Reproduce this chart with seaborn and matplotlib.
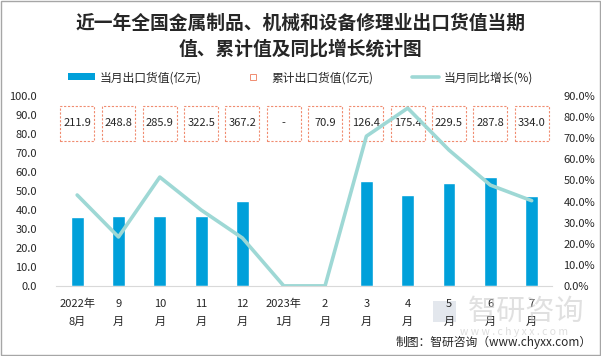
import numpy as np
import pandas as pd
import matplotlib
matplotlib.use("Agg")
import matplotlib.pyplot as plt
from matplotlib.patches import Patch, Rectangle
from matplotlib.lines import Line2D
import seaborn as sns

months = ["2022年\n8月", "9\n月", "10\n月", "11\n月", "12\n月", "2023年\n1月",
          "2\n月", "3\n月", "4\n月", "5\n月", "6\n月", "7\n月"]
monthly_value = [36.1, 36.6, 36.6, 36.7, 44.6, 0, 0, 55.3, 47.8, 54.3, 57.5, 47.6]
cumulative_value = ["211.9", "248.8", "285.9", "322.5", "367.2", "-", "70.9",
                    "126.4", "175.4", "229.5", "287.8", "334.0"]
yoy_growth = [43.1, 23.2, 51.6, 36.0, 22.7, 0, 0, 71.0, 84.3, 64.4, 47.8, 40.4]

bar_color = "#00A0DA"
line_color = "#9ED8D5"
box_color = "#F08C70"

sns.set_style("white")
plt.rcParams["font.family"] = ["Noto Sans CJK SC", "DejaVu Sans"]

df = pd.DataFrame({"month": months, "value": monthly_value, "yoy": yoy_growth})
df["pos"] = np.arange(len(df))

fig = plt.figure(figsize=(6.01, 3.56), dpi=100)
ax = fig.add_axes([0.094, 0.197, 0.825, 0.533])

sns.barplot(data=df, x="month", y="value", color=bar_color, width=0.31,
            saturation=1, ax=ax)
ax.set_ylim(0, 100)
ax.set_yticks(np.arange(0, 101, 10))
ax.set_yticklabels([f"{v:.1f}" for v in np.arange(0, 101, 10)], fontsize=8)
ax.set_xlim(-0.5, len(months) - 0.5)
ax.set_xlabel("")
ax.set_ylabel("")
ax.set_xticks(df["pos"])
ax.set_xticklabels([])
ax.tick_params(axis="x", length=0)
ax.tick_params(axis="y", length=0, pad=14)
for s in ["top", "right", "left"]:
    ax.spines[s].set_visible(False)
ax.spines["bottom"].set_color("#d9d9d9")

# two-line month labels under the axis
for i, m in enumerate(months):
    ax.annotate(m, xy=(i, 0), xycoords=("data", "axes fraction"),
                xytext=(0, -9.5), textcoords="offset points",
                ha="center", va="top", fontsize=8, linespacing=1.95)

# cumulative value boxes
for i, txt in enumerate(cumulative_value):
    ax.add_patch(Rectangle((i - 0.41, 76.5), 0.82, 18.2, fill=False,
                           ec=box_color, ls=(0, (2, 1.5)), lw=0.8))
    ax.text(i, 85.6, txt, ha="center", va="center", fontsize=8)

ax2 = ax.twinx()
sns.lineplot(data=df, x="pos", y="yoy", color=line_color, lw=2.6, ax=ax2)
ax2.set_ylim(0, 90)
ax2.set_yticks(np.arange(0, 91, 10))
ax2.set_yticklabels([f"{v:.1f}%" for v in np.arange(0, 91, 10)], fontsize=8)
ax2.set_xlim(-0.5, len(months) - 0.5)
ax2.set_ylabel("")
ax2.tick_params(axis="y", length=0, pad=8)
for s in ["top", "right", "left", "bottom"]:
    ax2.spines[s].set_visible(False)

fig.text(0.5, 0.935, "近一年全国金属制品、机械和设备修理业出口货值当期",
         ha="center", va="center", fontsize=13.5, fontweight="bold")
fig.text(0.5, 0.862, "值、累计值及同比增长统计图",
         ha="center", va="center", fontsize=13.5, fontweight="bold")

handles = [Patch(facecolor=bar_color, edgecolor="none"),
           Line2D([0], [0], ls="none", marker="s", markersize=5,
                  markerfacecolor="white", markeredgecolor=box_color, markeredgewidth=0.7),
           Line2D([0], [0], color=line_color, lw=2.6)]
labels = ["当月出口货值(亿元)", "累计出口货值(亿元)", "当月同比增长(%)"]
fig.legend(handles, labels, loc="center", bbox_to_anchor=(0.5, 0.782), ncol=3,
           frameon=False, fontsize=8.5, handlelength=2.3, handleheight=0.55,
           columnspacing=3.2, handletextpad=0.4)

# watermark
fig.add_artist(Rectangle((0.72, 0.095), 0.038, 0.06, transform=fig.transFigure,
                         fc="#c8d0dc", ec="none", alpha=0.5, zorder=0))
fig.text(0.875, 0.125, "智研咨询", ha="center", va="center", fontsize=21,
         color="#c8c8c8", alpha=0.55, zorder=0)
fig.text(0.855, 0.068, "w w w . c h y x x . c o m", ha="center", va="center",
         fontsize=7.5, color="#c8c8c8", alpha=0.6, zorder=0)
fig.text(0.985, 0.037, "制图：智研咨询（www.chyxx.com）", ha="right", va="center",
         fontsize=8.5)

fig.patches.append(Rectangle((0.001, 0.002), 0.997, 0.995, transform=fig.transFigure,
                             fill=False, ec="#a6a6a6", lw=1))

fig.savefig("out.png", dpi=100)
